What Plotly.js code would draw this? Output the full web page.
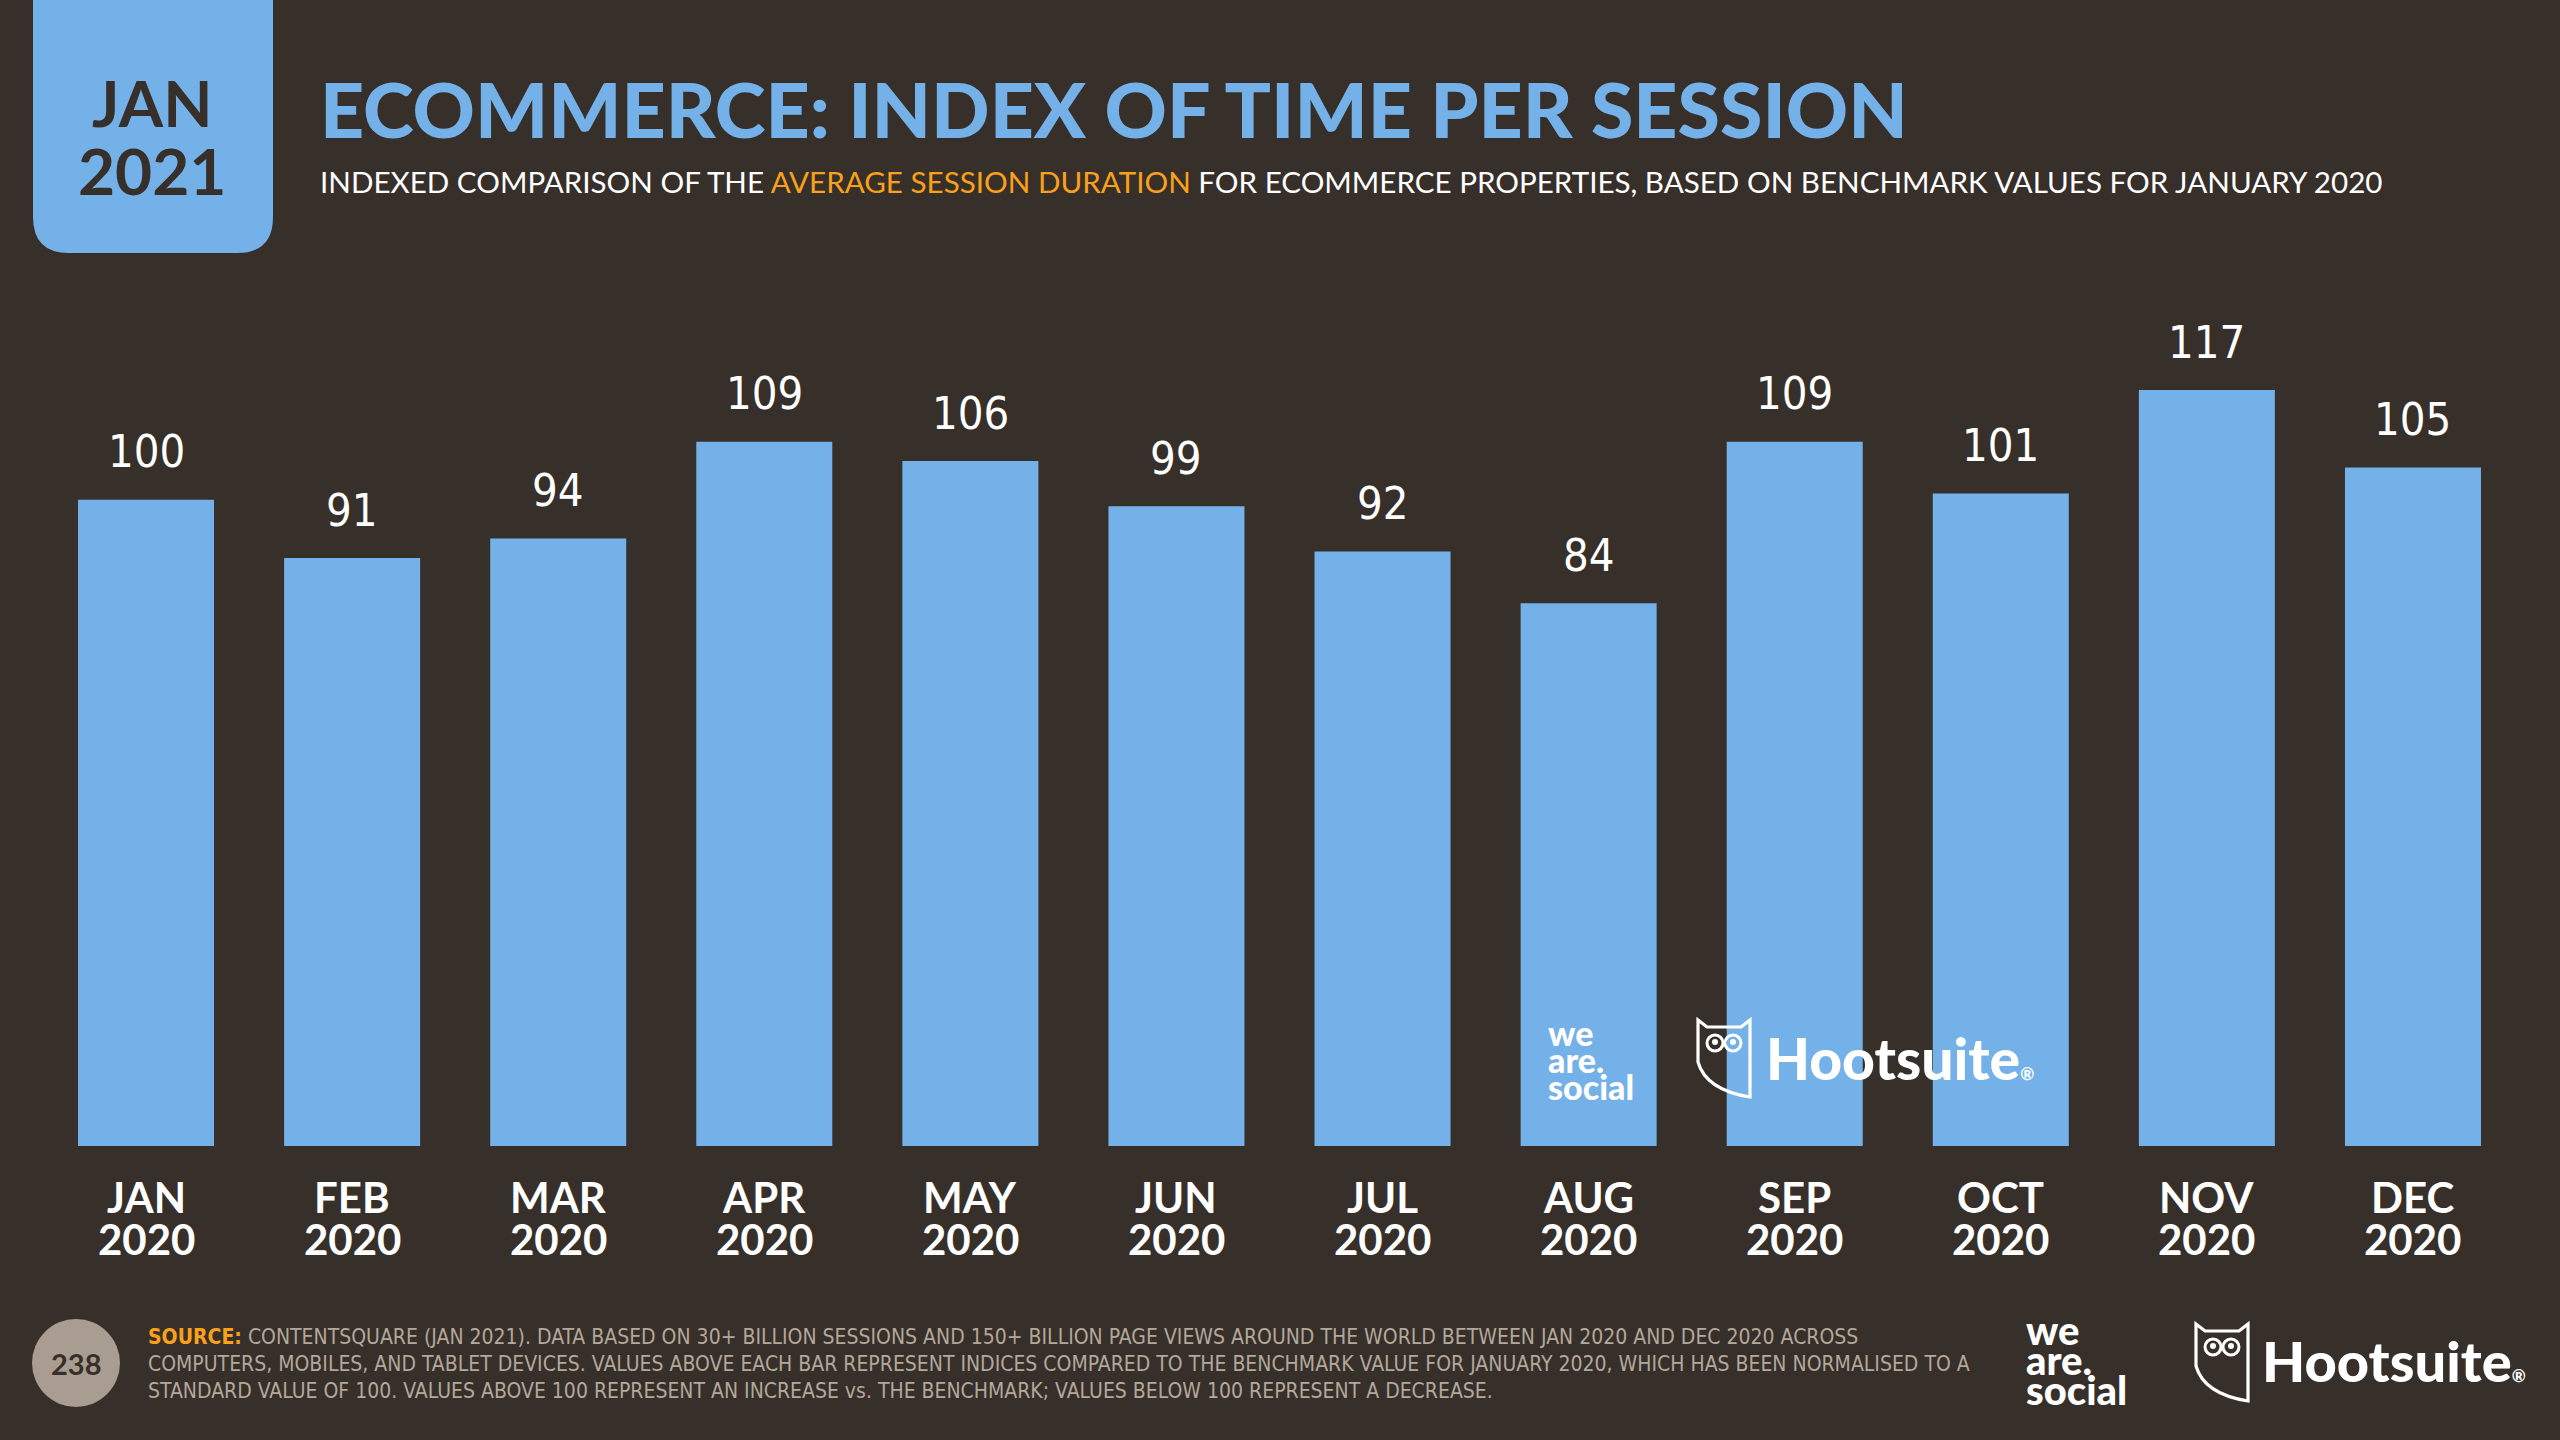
<!DOCTYPE html>
<html lang="en">
  <head>
    <meta charset="utf-8">
    <title>Ecommerce: index of time per session</title>
    <script src="https://cdn.plot.ly/plotly-3.0.1.min.js" charset="utf-8"></script>
    <style>
      html, body { margin: 0; padding: 0; background: #372F2A; }
    </style>
  </head>
  <body>
    <div id="plot" style="width:2560px;height:1440px"></div>
    <script type="text/javascript">
      const W = 2560, H = 1440;

      // data
      const months = ['JAN', 'FEB', 'MAR', 'APR', 'MAY', 'JUN', 'JUL', 'AUG', 'SEP', 'OCT', 'NOV', 'DEC'];
      const years = ['2020', '2020', '2020', '2020', '2020', '2020', '2020', '2020', '2020', '2020', '2020', '2020'];
      const indexValues = [100, 91, 94, 109, 106, 99, 92, 84, 109, 101, 117, 105];

      const BG = '#372F2A';
      const BLUE = '#74B1E8';
      const ORANGE = '#F9A11B';
      const GREY = '#B3A89A';
      const HEAD = 'Lato, "Open Sans", sans-serif';
      const NARROW = '"Liberation Sans Narrow", "DejaVu Sans Condensed", sans-serif';

      // pixel -> paper helpers (margins are zero, so paper = whole figure)
      const px = x => x / W;
      const py = y => 1 - y / H;
      const pathFrom = pts => pts.map((p, i) => {
        if (p[0] === 'Q') return 'Q' + px(p[1]) + ',' + py(p[2]) + ' ' + px(p[3]) + ',' + py(p[4]);
        return (i === 0 ? 'M' : 'L') + px(p[0]) + ',' + py(p[1]);
      }).join(' ') + ' Z';

      function owl(x, y, s) {
        // little shield-shaped owl outline, box 52x77 at scale s
        const P = (a, b) => [x + a * s, y + b * s];
        const body = pathFrom([
          P(0, 0), P(9, 7), P(43, 7), P(52, 0), P(52, 77),
          ['Q', x + 8 * s, y + 70 * s, x, y + 42 * s]
        ]);
        const eye = (cx, cy, r) => ({
          type: 'circle', xref: 'paper', yref: 'paper',
          x0: px(x + (cx - r) * s), x1: px(x + (cx + r) * s),
          y0: py(y + (cy + r) * s), y1: py(y + (cy - r) * s),
          line: {color: 'white', width: 3 * s}
        });
        return [
          {type: 'path', xref: 'paper', yref: 'paper', path: body, line: {color: 'white', width: 3.2 * s}},
          eye(17, 23, 8), eye(35, 23, 8),
          {type: 'circle', xref: 'paper', yref: 'paper', fillcolor: 'white', line: {width: 0},
           x0: px(x + 14 * s), x1: px(x + 20 * s), y0: py(y + 25 * s), y1: py(y + 19 * s)},
          {type: 'circle', xref: 'paper', yref: 'paper', fillcolor: 'white', line: {width: 0},
           x0: px(x + 32 * s), x1: px(x + 38 * s), y0: py(y + 25 * s), y1: py(y + 19 * s)}
        ];
      }

      function weAreSocial(x, y, size, gap) {
        return ['we', 'are.', 'social'].map((t, i) => ({
          xref: 'paper', yref: 'paper', x: px(x), y: py(y + i * gap),
          xanchor: 'left', yanchor: 'middle', showarrow: false, text: t,
          font: {family: HEAD, size: size, color: 'white', weight: 900}
        }));
      }

      function hootsuite(x, y, size) {
        return {
          xref: 'paper', yref: 'paper', x: px(x), y: py(y),
          xanchor: 'left', yanchor: 'middle', showarrow: false,
          text: 'Hootsuite<span style="font-size:' + Math.round(size * 0.3) + 'px">®</span>',
          font: {family: HEAD, size: size, color: 'white', weight: 900}
        };
      }

      const trace = {
        type: 'bar',
        x: months,
        y: indexValues,
        marker: {color: BLUE, line: {width: 0}},
        hoverinfo: 'skip'
      };

      // bar value labels, month and year labels
      const valueNotes = months.map((m, i) => ({
        x: m, y: indexValues[i], xref: 'x', yref: 'y', yshift: 48,
        yanchor: 'middle', showarrow: false, text: String(indexValues[i]),
        font: {family: NARROW, size: 45, color: 'white'}
      }));
      const monthNotes = months.map(m => ({
        x: m, y: 0, xref: 'x', yref: 'y', yshift: -51, yanchor: 'middle', showarrow: false,
        text: m, font: {family: HEAD, size: 42, color: 'white', weight: 700}
      }));
      const yearNotes = months.map((m, i) => ({
        x: m, y: 0, xref: 'x', yref: 'y', yshift: -93, yanchor: 'middle', showarrow: false,
        text: years[i], font: {family: HEAD, size: 42, color: 'white', weight: 700}
      }));

      const sourceLines = [
        '<b style="color:' + ORANGE + '">SOURCE:</b> CONTENTSQUARE (JAN 2021). DATA BASED ON 30+ BILLION SESSIONS AND 150+ BILLION PAGE VIEWS AROUND THE WORLD BETWEEN JAN 2020 AND DEC 2020 ACROSS',
        'COMPUTERS, MOBILES, AND TABLET DEVICES. VALUES ABOVE EACH BAR REPRESENT INDICES COMPARED TO THE BENCHMARK VALUE FOR JANUARY 2020, WHICH HAS BEEN NORMALISED TO A',
        'STANDARD VALUE OF 100. VALUES ABOVE 100 REPRESENT AN INCREASE vs. THE BENCHMARK; VALUES BELOW 100 REPRESENT A DECREASE.'
      ];
      const sourceNotes = sourceLines.map((t, i) => ({
        xref: 'paper', yref: 'paper', x: px(146), y: py(1337 + i * 27),
        xanchor: 'left', yanchor: 'middle', showarrow: false, text: t,
        font: {family: NARROW, size: 21, color: GREY}
      }));

      const headerNotes = [
        {xref: 'paper', yref: 'paper', x: px(152), y: py(103), xanchor: 'center', yanchor: 'middle',
         showarrow: false, text: 'JAN', font: {family: HEAD, size: 64, color: BG, weight: 700}},
        {xref: 'paper', yref: 'paper', x: px(152), y: py(170), xanchor: 'center', yanchor: 'middle',
         showarrow: false, text: '2021', font: {family: HEAD, size: 64, color: BG, weight: 700}},
        {xref: 'paper', yref: 'paper', x: px(318), y: py(181), xanchor: 'left', yanchor: 'middle',
         showarrow: false,
         text: 'INDEXED COMPARISON OF THE <span style="color:' + ORANGE + '">AVERAGE SESSION DURATION</span> FOR ECOMMERCE PROPERTIES, BASED ON BENCHMARK VALUES FOR JANUARY 2020',
         font: {family: HEAD, size: 29.6, color: 'white'}},
        {xref: 'paper', yref: 'paper', x: px(76), y: py(1363), xanchor: 'center', yanchor: 'middle',
         showarrow: false, text: '238', font: {family: HEAD, size: 29, color: BG, weight: 700}}
      ];

      const r = 36;
      const shapes = [
        {type: 'path', xref: 'paper', yref: 'paper', fillcolor: BLUE, line: {width: 0}, layer: 'below',
         path: pathFrom([[33, 0], [273, 0], [273, 253 - r], ['Q', 273, 253, 273 - r, 253],
                         [33 + r, 253], ['Q', 33, 253, 33, 253 - r]])},
        {type: 'circle', xref: 'paper', yref: 'paper', fillcolor: '#A89D90', line: {width: 0},
         x0: px(32), x1: px(120), y0: py(1407), y1: py(1319)}
      ].concat(owl(1698, 1020, 1), owl(2196, 1324, 1));

      const layout = {
        width: W, height: H,
        margin: {l: 0, r: 0, t: 0, b: 0, pad: 0},
        paper_bgcolor: BG, plot_bgcolor: BG,
        showlegend: false,
        bargap: 0.34,
        title: {
          text: 'ECOMMERCE: INDEX OF TIME PER SESSION',
          x: px(320), xanchor: 'left', xref: 'paper',
          y: py(111), yanchor: 'middle', yref: 'paper',
          font: {family: HEAD, size: 77, color: BLUE, weight: 900}
        },
        xaxis: {
          domain: [px(43), px(2516)],
          type: 'category',
          showticklabels: false, showgrid: false, zeroline: false, showline: false, ticks: ''
        },
        yaxis: {
          domain: [py(1146), py(306)],
          range: [0, 130],
          showticklabels: false, showgrid: false, zeroline: false, showline: false, ticks: ''
        },
        shapes: shapes,
        annotations: [].concat(valueNotes, monthNotes, yearNotes, sourceNotes, headerNotes,
          weAreSocial(1546, 1032, 34, 27), [hootsuite(1764, 1058, 57)],
          weAreSocial(2024, 1330, 40, 30), [hootsuite(2260, 1360, 56)])
      };

      Plotly.newPlot(document.getElementById('plot'), [trace], layout, {displayModeBar: false, staticPlot: true});
    </script>
  </body>
</html>
